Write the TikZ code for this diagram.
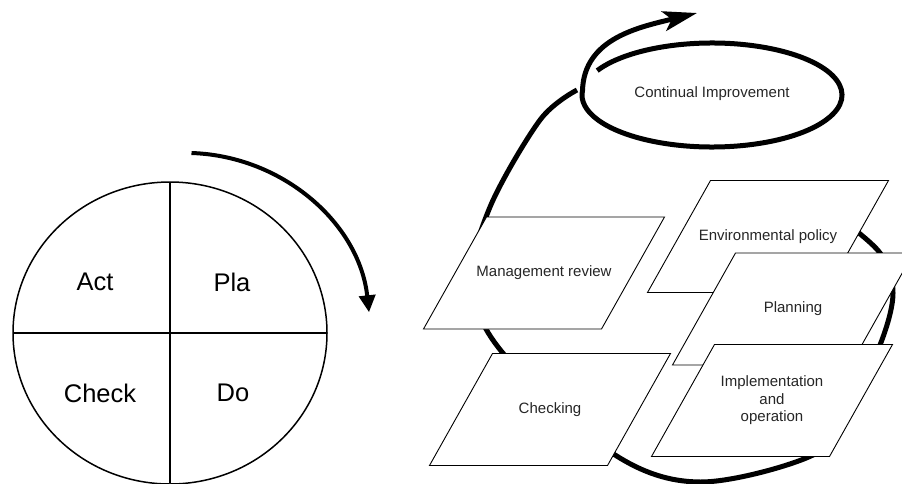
\documentclass[tikz,border=0pt]{standalone}
\usepackage{fontspec}
\setmainfont{Liberation Sans}
\usetikzlibrary{arrows.meta}
\tikzset{
	plate/.style={draw, fill=white, line width=0.9pt},
	platetext/.style={font=\fontsize{15}{17.5}\selectfont, align=center, text=black!85},
	quarter/.style={font=\fontsize{25.5}{30}\selectfont},
	loopline/.style={line width=5pt}
}
% parallelogram with its label: centre, name, text
\newcommand{\plate}[3]{%
	\filldraw[plate] (#1) ++(-120.5,-56) -- ++(178,0) -- ++(63,112) -- ++(-178,0) -- cycle;
	\node[platetext] (#2) at (#1) {#3};
}

\begin{document}
\begin{tikzpicture}[x=1pt,y=1pt,>=stealth]
			      \useasboundingbox (0,0) rectangle (902,483);
			      \clip (0,0) rectangle (902,483);

			      % PDCA circle cut in four
			      \draw[line width=1.5pt] (170,150) ellipse [x radius=157, y radius=151];
			      \draw[line width=1.2pt] (13,150) -- (327,150);
			      \draw[line width=1.2pt] (170,301) -- (170,0);
			      \node[quarter] (act) at (95,201) {Act};
			      \node[quarter] (plan) at (232,201) {Pla};
			      \node[quarter] (check) at (100,90) {Check};
			      \node[quarter] (do) at (233,90) {Do};

			      % turning direction
			      \draw[line width=4pt,-{Triangle[length=17pt,width=16pt]}] (191.5,330) arc[start angle=88, end angle=6, x radius=185, y radius=178];

			      % big loop behind the plates
			      \draw[loopline] plot[smooth, tension=0.55] coordinates {(842,263) (880,230) (893,190) (880,138) (847,73) (813,28) (700,1) (612,30) (502,131) (472,200) (490,276) (540,363) (577,393)};

			      % spiral round continual improvement
			      \draw[loopline,-{Stealth[length=34pt,width=20pt,inset=8pt]}] (712,388) ++(152:130pt and 52pt) arc[start angle=152, end angle=-185, x radius=130, y radius=52]
			            .. controls (584,445) and (640,456) .. (697,470);
			      \node[platetext] (improve) at (712,389) {Continual Improvement};

			      % the plates
			      \plate{768,246.5}{policy}{Environmental policy}
			      \plate{544,210}{review}{Management review}
			      \plate{793,174}{planning}{Planning}
			      \plate{772,82.5}{implement}{Implementation\\and\\operation}
			      \plate{550,73.5}{checking}{Checking}
		      \end{tikzpicture}
\end{document}
